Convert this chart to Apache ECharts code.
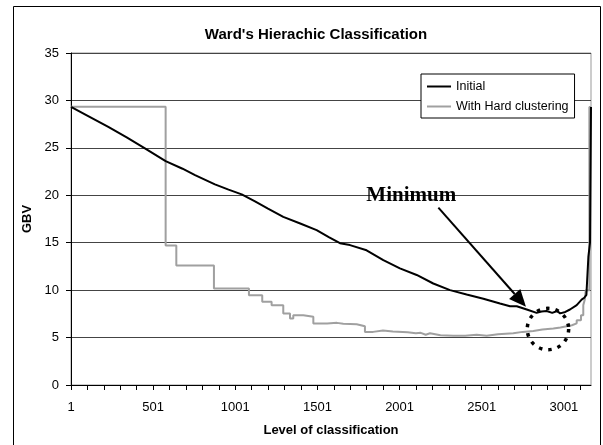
<!DOCTYPE html>
<html>
<head>
<meta charset="utf-8">
<script src="https://cdn.jsdelivr.net/npm/echarts@6/dist/echarts.min.js"></script>
<style>
  html, body { margin: 0; padding: 0; background: #fff; }
  #chart { width: 603px; height: 445px; }
</style>
</head>
<body>
<div id="chart"></div>
<script>
// ---- data ----
const N_LEVELS = 3166;                       // number of classification levels
const xTickLabels = ['1', '501', '1001', '1501', '2001', '2501', '3001'];
const yTicks = [0, 5, 10, 15, 20, 25, 30, 35];

// "Initial" curve: level -> GBV
const initialLevels = [1, 100, 228, 340, 451, 577, 680, 756, 877, 960, 1040, 1121, 1200, 1293, 1400, 1496, 1570, 1638, 1699, 1800, 1902, 2003, 2105, 2206, 2308, 2409, 2511, 2612, 2673, 2714, 2775, 2835, 2865, 2896, 2930, 2960, 2978, 3010, 3038, 3079, 3109, 3125, 3138, 3150, 3160, 3166];
const initialValues = [29.33, 28.4, 27.2, 26.1, 24.95, 23.6, 22.8, 22.13, 21.15, 20.6, 20.1, 19.35, 18.6, 17.73, 17.0, 16.33, 15.6, 14.95, 14.75, 14.2, 13.16, 12.3, 11.6, 10.7, 10.0, 9.55, 9.1, 8.6, 8.3, 8.3, 7.96, 7.6, 7.75, 7.8, 7.6, 7.8, 7.55, 7.7, 7.96, 8.42, 9.0, 9.2, 9.5, 13.5, 15.0, 29.3];

// "With Hard clustering" curve (stepwise): plateau start level -> GBV
const hardLevels = [1, 577, 642, 871, 1084, 1165, 1222, 1293, 1334, 1354, 1415, 1476, 1560, 1620, 1658, 1740, 1790, 1840, 1900, 1960, 2050, 2100, 2130, 2160, 2186, 2250, 2328, 2400, 2470, 2531, 2600, 2693, 2750, 2815, 2870, 2937, 2980, 3018, 3050, 3079, 3105, 3119, 3128, 3134, 3156, 3166];
const hardValues = [29.33, 14.71, 12.6, 10.18, 9.47, 8.77, 8.42, 7.54, 7.0, 7.36, 7.19, 6.49, 6.55, 6.45, 6.41, 6.2, 5.6, 5.75, 5.65, 5.55, 5.45, 5.5, 5.3, 5.45, 5.25, 5.2, 5.2, 5.3, 5.2, 5.35, 5.45, 5.6, 5.7, 5.85, 5.95, 6.07, 6.2, 6.3, 6.5, 6.83, 7.36, 8.42, 9.0, 10.0, 29.3, 29.3];

// annotations in data space: [level, GBV]
const minimumLabelAt = [2072, 20.0];
const arrowFrom = [2237, 18.7];
const arrowTo = [2770, 8.25];
const circleCenter = [2904, 5.9];
const circleRadiusLevels = 126;

// ---- build ----
const categories = Array.from({ length: N_LEVELS }, (_, i) => String(i + 1));
const initialData = initialLevels.map((l, i) => [String(l), initialValues[i]]);
const hardData = hardLevels.map((l, i) => [String(l), hardValues[i]]);

const FONT = 'Liberation Sans, Arial, sans-serif';
const chart = echarts.init(document.getElementById('chart'), null, { renderer: 'canvas' });

const option = {
  animation: false,
  backgroundColor: '#fff',
  title: {
    text: "Ward's Hierachic Classification",
    left: 311, top: 22, textAlign: 'center',
    textStyle: { fontFamily: FONT, fontSize: 15, fontWeight: 'bold', color: '#000' }
  },
  legend: {
    orient: 'vertical',
    left: 421, top: 74,
    padding: [5, 6, 4, 6],
    itemGap: 5,
    itemWidth: 24, itemHeight: 2,
    icon: 'rect',
    borderColor: '#000', borderWidth: 1,
    backgroundColor: '#fff',
    textStyle: { fontFamily: FONT, fontSize: 12.5, color: '#000', lineHeight: 15 },
    data: ['Initial', 'With Hard clustering']
  },
  grid: {
    left: 71, right: 12, top: 53, bottom: 60,
    show: true, borderColor: '#999', borderWidth: 1, backgroundColor: '#fff'
  },
  xAxis: {
    type: 'category',
    data: categories,
    boundaryGap: false,
    name: 'Level of classification',
    nameLocation: 'middle',
    nameGap: 39,
    nameTextStyle: { fontFamily: FONT, fontSize: 13, fontWeight: 'bold', color: '#000' },
    axisLine: { lineStyle: { color: '#000', width: 1 } },
    axisTick: { show: true, interval: 99, length: 5, lineStyle: { color: '#000' } },
    axisLabel: {
      interval: 499, margin: 16,
      fontFamily: FONT, fontSize: 13, color: '#000',
      formatter: v => (xTickLabels.indexOf(v) >= 0 ? v : '')
    },
    splitLine: { show: false }
  },
  yAxis: {
    type: 'value',
    min: yTicks[0], max: yTicks[yTicks.length - 1], interval: 5,
    name: 'GBV',
    nameLocation: 'middle',
    nameGap: 33,
    nameTextStyle: { fontFamily: FONT, fontSize: 13, fontWeight: 'bold', color: '#000' },
    axisLine: { show: true, lineStyle: { color: '#000', width: 1 } },
    axisTick: { show: true, length: 5, lineStyle: { color: '#000' } },
    axisLabel: { margin: 12, fontFamily: FONT, fontSize: 13, color: '#000' },
    splitLine: { show: true, lineStyle: { color: '#444', width: 1 } }
  },
  series: [
    {
      name: 'Initial', type: 'line', data: initialData,
      showSymbol: false, symbol: 'none',
      lineStyle: { color: '#000', width: 2 }, itemStyle: { color: '#000' },
      z: 3
    },
    {
      name: 'With Hard clustering', type: 'line', data: hardData, step: 'end',
      showSymbol: false, symbol: 'none',
      lineStyle: { color: '#a0a0a0', width: 2 }, itemStyle: { color: '#a0a0a0' },
      z: 2
    }
  ]
};
chart.setOption(option);

// annotations placed from data coordinates
function px(p) { return chart.convertToPixel({ gridIndex: 0 }, [String(p[0]), p[1]]); }
const a = px(arrowFrom), b = px(arrowTo);
const dx = b[0] - a[0], dy = b[1] - a[1], len = Math.sqrt(dx * dx + dy * dy);
const ux = dx / len, uy = dy / len;
const headLen = 17, headHalf = 7.5;
const base = [b[0] - ux * headLen, b[1] - uy * headLen];
const c = px(circleCenter);
const cEdge = px([circleCenter[0] + circleRadiusLevels, circleCenter[1]]);
const r = cEdge[0] - c[0];
const m = px(minimumLabelAt);

chart.setOption({
  graphic: [
    { type: 'rect', silent: true, z: 100,
      shape: { x: 13.5, y: 6.5, width: 587, height: 460 },
      style: { fill: 'none', stroke: '#000', lineWidth: 1 } },
    { type: 'text', z: 100, x: m[0], y: m[1],
      style: { text: 'Minimum', fill: '#000', font: 'bold 21px "Liberation Serif", "Times New Roman", serif',
               align: 'center', verticalAlign: 'middle' } },
    { type: 'line', z: 100,
      shape: { x1: a[0], y1: a[1], x2: base[0], y2: base[1] },
      style: { stroke: '#000', lineWidth: 2 } },
    { type: 'polygon', z: 100,
      shape: { points: [b, [base[0] - uy * headHalf, base[1] + ux * headHalf], [base[0] + uy * headHalf, base[1] - ux * headHalf]] },
      style: { fill: '#000' } },
    { type: 'circle', z: 100,
      shape: { cx: c[0], cy: c[1], r: r },
      style: { fill: 'none', stroke: '#000', lineWidth: 3.5, lineDash: [3.5, 6] } }
  ]
});
</script>
</body>
</html>
